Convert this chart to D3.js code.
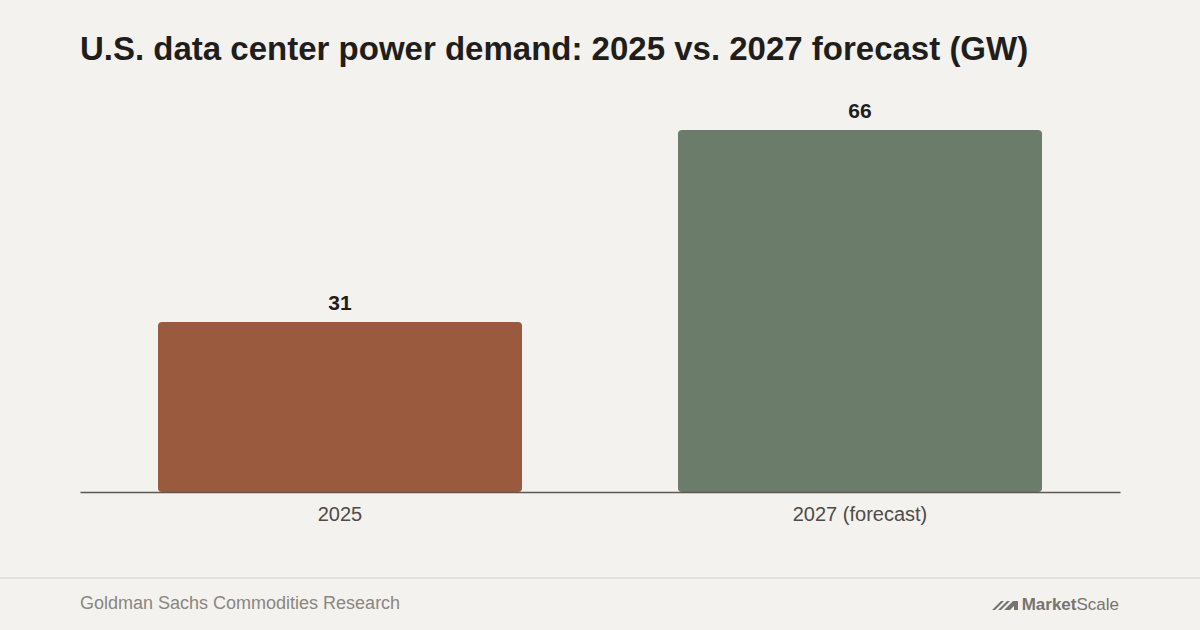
<!DOCTYPE html>
<html lang="en">
<head>
    <meta charset="UTF-8">
    <title>U.S. data center power demand</title>
    <style>
        html, body {
            margin: 0;
            padding: 0;
            background: #f4f2ee;
        }
        svg {
            display: block;
            font-family: "Liberation Sans", Arial, Helvetica, sans-serif;
        }
        .title {
            font-size: 33px;
            font-weight: bold;
            fill: #1f1e1c;
        }
        .value {
            font-size: 21px;
            font-weight: bold;
            fill: #1f1e1c;
        }
        .tick text {
            font-size: 20px;
            fill: #4f4b46;
        }
        .source {
            font-size: 18px;
            fill: #8a8680;
        }
        .logo {
            font-size: 17px;
            fill: #77746f;
        }
    </style>
</head>
<body>
    <script src="https://d3js.org/d3.v7.min.js"></script>
    <script>
// chart data
const categories = ["2025", "2027 (forecast)"];
const demandGW = [31, 66];
const barColors = ["#9a5a3e", "#6b7c6a"];

const width = 1200;
const height = 630;
const margin = {left: 80, right: 80, top: 130, bottom: 138};

const svg = d3.select("body")
    .append("svg")
    .attr("width", width)
    .attr("height", height);

svg.append("rect")
    .attr("width", width)
    .attr("height", height)
    .attr("fill", "#f4f2ee");

svg.append("text")
    .attr("class", "title")
    .attr("x", 80)
    .attr("y", 60)
    .text("U.S. data center power demand: 2025 vs. 2027 forecast (GW)");

const x = d3.scaleBand()
    .domain(categories)
    .range([margin.left, width - margin.right])
    .paddingInner(0.3)
    .paddingOuter(0.15);

const y = d3.scaleLinear()
    .domain([0, d3.max(demandGW)])
    .range([height - margin.bottom, margin.top]);

const rows = categories.map((c, i) => ({cat: c, value: demandGW[i], color: barColors[i]}));

// bars
svg.selectAll(".bar")
    .data(rows)
    .join("rect")
    .attr("class", "bar")
    .attr("x", d => x(d.cat))
    .attr("y", d => y(d.value))
    .attr("width", x.bandwidth())
    .attr("height", d => y(0) - y(d.value))
    .attr("rx", 4)
    .attr("fill", d => d.color);

// value labels
svg.selectAll(".value")
    .data(rows)
    .join("text")
    .attr("class", "value")
    .attr("x", d => x(d.cat) + x.bandwidth() / 2)
    .attr("y", d => y(d.value) - 12)
    .attr("text-anchor", "middle")
    .text(d => d.value);

// x axis
const xAxis = svg.append("g")
    .attr("transform", `translate(0,${y(0)})`)
    .call(d3.axisBottom(x).tickSize(0).tickPadding(15));
xAxis.select(".domain")
    .attr("stroke", "#5c5751")
    .attr("stroke-width", 1.5);
xAxis.selectAll(".tick text")
    .attr("font-family", null)
    .attr("font-size", null);

// footer
svg.append("line")
    .attr("x1", 0)
    .attr("x2", width)
    .attr("y1", 578)
    .attr("y2", 578)
    .attr("stroke", "#e4e1dc")
    .attr("stroke-width", 2);

svg.append("text")
    .attr("class", "source")
    .attr("x", 80)
    .attr("y", 609)
    .text("Goldman Sachs Commodities Research");

// logo
const logo = svg.append("g").attr("transform", "translate(992,598)");
logo.append("path")
    .attr("d", "M0,12 L9,3 L12,3 L3,12 Z M6,12 L15,3 L18,3 L9,12 Z M12,12 L21,3 L26,3 L26,12 L22,12 L22,8 L18,12 Z")
    .attr("fill", "#77746f");
const logoText = svg.append("text")
    .attr("class", "logo")
    .attr("x", 1119)
    .attr("y", 610)
    .attr("text-anchor", "end");
logoText.append("tspan").attr("font-weight", "bold").text("Market");
logoText.append("tspan").text("Scale");
    </script>
</body>
</html>
